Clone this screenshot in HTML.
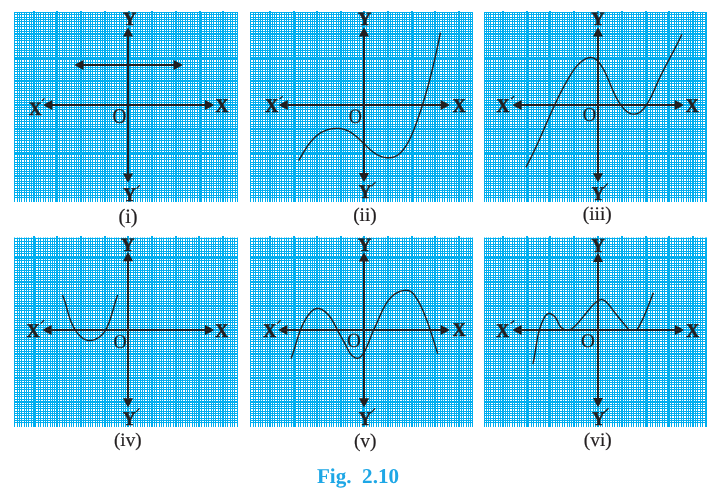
<!DOCTYPE html>
<html><head><meta charset="utf-8"><title>Fig. 2.10</title>
<style>
html,body{margin:0;padding:0;background:#fff;}
body{width:727px;height:494px;overflow:hidden;font-family:"Liberation Serif",serif;}
svg{display:block;will-change:transform;}
</style></head><body>
<svg width="727" height="494" viewBox="0 0 727 494" font-family="'Liberation Serif', serif" text-rendering="geometricPrecision">
<rect width="727" height="494" fill="#fff"/>
<g id="p1">
<path d="M17 12h1v190h-1zM19 12h1v190h-1zM21 12h1v190h-1zM24 12h1v190h-1zM26 12h1v190h-1zM29 12h1v190h-1zM31 12h1v190h-1zM33 11h2v191h-2zM36 12h1v190h-1zM38 12h1v190h-1zM40 12h1v190h-1zM43 12h1v190h-1zM45 12h1v190h-1zM48 12h1v190h-1zM50 12h1v190h-1zM52 12h1v190h-1zM55 12h1v190h-1zM56 11h2v191h-2zM59 12h1v190h-1zM62 12h1v190h-1zM64 12h1v190h-1zM66 12h1v190h-1zM69 12h1v190h-1zM71 12h1v190h-1zM74 12h1v190h-1zM76 12h1v190h-1zM78 12h1v190h-1zM80 11h2v191h-2zM83 12h1v190h-1zM85 12h1v190h-1zM88 12h1v190h-1zM90 12h1v190h-1zM92 12h1v190h-1zM95 12h1v190h-1zM97 12h1v190h-1zM100 12h1v190h-1zM102 12h1v190h-1zM104 11h2v191h-2zM107 12h1v190h-1zM109 12h1v190h-1zM111 12h1v190h-1zM114 12h1v190h-1zM116 12h1v190h-1zM119 12h1v190h-1zM121 12h1v190h-1zM123 12h1v190h-1zM126 12h1v190h-1zM128 11h2v191h-2zM130 12h1v190h-1zM133 12h1v190h-1zM135 12h1v190h-1zM137 12h1v190h-1zM140 12h1v190h-1zM142 12h1v190h-1zM145 12h1v190h-1zM147 12h1v190h-1zM149 12h1v190h-1zM151 11h2v191h-2zM154 12h1v190h-1zM156 12h1v190h-1zM159 12h1v190h-1zM161 12h1v190h-1zM164 12h1v190h-1zM166 12h1v190h-1zM168 12h1v190h-1zM171 12h1v190h-1zM173 12h1v190h-1zM175 11h2v191h-2zM178 12h1v190h-1zM180 12h1v190h-1zM182 12h1v190h-1zM185 12h1v190h-1zM187 12h1v190h-1zM190 12h1v190h-1zM192 12h1v190h-1zM194 12h1v190h-1zM197 12h1v190h-1zM199 11h2v191h-2zM201 12h1v190h-1zM204 12h1v190h-1zM206 12h1v190h-1zM209 12h1v190h-1zM211 12h1v190h-1zM213 12h1v190h-1zM216 12h1v190h-1zM218 12h1v190h-1zM220 12h1v190h-1zM222 11h2v191h-2zM225 12h1v190h-1zM227 12h1v190h-1zM230 12h1v190h-1zM232 12h1v190h-1zM235 12h1v190h-1zM14 12h1v190h-1zM237 12h1v190h-1zM14 14h224v1h-224zM14 17h224v1h-224zM14 19h224v1h-224zM14 21h224v1h-224zM14 24h224v1h-224zM14 26h224v1h-224zM14 29h224v1h-224zM14 31h224v1h-224zM14 33h224v2h-224zM14 36h224v1h-224zM14 38h224v1h-224zM14 40h224v1h-224zM14 43h224v1h-224zM14 45h224v1h-224zM14 48h224v1h-224zM14 50h224v1h-224zM14 52h224v1h-224zM14 55h224v1h-224zM14 57h224v2h-224zM14 59h224v1h-224zM14 62h224v1h-224zM14 64h224v1h-224zM14 67h224v1h-224zM14 69h224v1h-224zM14 71h224v1h-224zM14 74h224v1h-224zM14 76h224v1h-224zM14 78h224v1h-224zM14 80h224v2h-224zM14 83h224v1h-224zM14 86h224v1h-224zM14 88h224v1h-224zM14 90h224v1h-224zM14 93h224v1h-224zM14 95h224v1h-224zM14 97h224v1h-224zM14 100h224v1h-224zM14 102h224v1h-224zM14 104h224v2h-224zM14 107h224v1h-224zM14 109h224v1h-224zM14 112h224v1h-224zM14 114h224v1h-224zM14 116h224v1h-224zM14 119h224v1h-224zM14 121h224v1h-224zM14 124h224v1h-224zM14 126h224v1h-224zM14 128h224v2h-224zM14 131h224v1h-224zM14 133h224v1h-224zM14 135h224v1h-224zM14 138h224v1h-224zM14 140h224v1h-224zM14 143h224v1h-224zM14 145h224v1h-224zM14 147h224v1h-224zM14 150h224v1h-224zM14 152h224v2h-224zM14 154h224v1h-224zM14 157h224v1h-224zM14 159h224v1h-224zM14 162h224v1h-224zM14 164h224v1h-224zM14 166h224v1h-224zM14 169h224v1h-224zM14 171h224v1h-224zM14 173h224v1h-224zM14 175h224v2h-224zM14 178h224v1h-224zM14 181h224v1h-224zM14 183h224v1h-224zM14 185h224v1h-224zM14 188h224v1h-224zM14 190h224v1h-224zM14 192h224v1h-224zM14 195h224v1h-224zM14 12h224v1h-224zM14 197h224v1h-224z" fill="#00aeef" shape-rendering="crispEdges"/>
<text transform="translate(123.00 24.60) scale(0.98 1)" font-size="18.8" font-weight="bold" fill="#231f20" stroke="#231f20" stroke-width="0.65" stroke-linejoin="round">Y</text>
<text transform="translate(123.32 201.30) scale(0.9 1)" font-size="19.5" font-weight="bold" fill="#231f20" stroke="#231f20" stroke-width="0.65" stroke-linejoin="round">Y</text>
<line x1="136.7" y1="188.6" x2="139.8" y2="185.1" stroke="#231f20" stroke-width="1.25"/>
<text transform="translate(28.90 114.60) scale(0.92 1)" font-size="18.8" font-weight="bold" fill="#231f20" stroke="#231f20" stroke-width="0.65" stroke-linejoin="round">X</text>
<line x1="42.0" y1="101.0" x2="44.4" y2="98.4" stroke="#231f20" stroke-width="1.25"/>
<text transform="translate(215.59 111.80) scale(0.92 1)" font-size="19.4" font-weight="bold" fill="#231f20" stroke="#231f20" stroke-width="0.65" stroke-linejoin="round">X</text>
<text transform="translate(112.51 123.49) scale(0.916 1)" font-size="20.99" fill="#231f20" stroke="#231f20" stroke-width="0.2">O</text>
<text x="128.0" y="222.6" font-size="20.4" text-anchor="middle" fill="#231f20" stroke="#231f20" stroke-width="0.2">(i)</text>
<path d="M52.099999999999994 105.0H205.2M128.0 36.3V173.7" stroke="#231f20" stroke-width="2.0" fill="none" shape-rendering="crispEdges"/>
<polygon points="43.0,105.0 52.3,100.0 52.3,110.0" fill="#231f20"/>
<polygon points="214.3,105.0 205.0,100.0 205.0,110.0" fill="#231f20"/>
<polygon points="128.0,27.2 123.0,36.5 133.1,36.5" fill="#231f20"/>
<polygon points="128.0,182.8 123.0,173.5 133.1,173.5" fill="#231f20"/>
<path d="M83.3 65H173.79999999999998" stroke="#231f20" stroke-width="2.0" fill="none" shape-rendering="crispEdges"/>
<polygon points="74.2,65.0 83.5,60.0 83.5,70.0" fill="#231f20"/>
<polygon points="182.9,65.0 173.6,60.0 173.6,70.0" fill="#231f20"/>
</g>
<g id="p2">
<path d="M253 12h1v190h-1zM255 12h1v190h-1zM258 12h1v190h-1zM260 12h1v190h-1zM262 12h1v190h-1zM265 12h1v190h-1zM267 12h1v190h-1zM269 11h2v191h-2zM272 12h1v190h-1zM274 12h1v190h-1zM276 12h1v190h-1zM279 12h1v190h-1zM281 12h1v190h-1zM284 12h1v190h-1zM286 12h1v190h-1zM288 12h1v190h-1zM291 12h1v190h-1zM293 11h2v191h-2zM295 12h1v190h-1zM298 12h1v190h-1zM300 12h1v190h-1zM302 12h1v190h-1zM305 12h1v190h-1zM307 12h1v190h-1zM310 12h1v190h-1zM312 12h1v190h-1zM314 12h1v190h-1zM316 11h2v191h-2zM319 12h1v190h-1zM321 12h1v190h-1zM324 12h1v190h-1zM326 12h1v190h-1zM328 12h1v190h-1zM331 12h1v190h-1zM333 12h1v190h-1zM336 12h1v190h-1zM338 12h1v190h-1zM340 11h2v191h-2zM343 12h1v190h-1zM345 12h1v190h-1zM347 12h1v190h-1zM350 12h1v190h-1zM352 12h1v190h-1zM354 12h1v190h-1zM357 12h1v190h-1zM359 12h1v190h-1zM362 12h1v190h-1zM363 11h2v191h-2zM366 12h1v190h-1zM369 12h1v190h-1zM371 12h1v190h-1zM373 12h1v190h-1zM376 12h1v190h-1zM378 12h1v190h-1zM380 12h1v190h-1zM383 12h1v190h-1zM385 12h1v190h-1zM387 11h2v191h-2zM390 12h1v190h-1zM392 12h1v190h-1zM395 12h1v190h-1zM397 12h1v190h-1zM399 12h1v190h-1zM402 12h1v190h-1zM404 12h1v190h-1zM406 12h1v190h-1zM409 12h1v190h-1zM411 11h2v191h-2zM413 12h1v190h-1zM416 12h1v190h-1zM418 12h1v190h-1zM421 12h1v190h-1zM423 12h1v190h-1zM425 12h1v190h-1zM428 12h1v190h-1zM430 12h1v190h-1zM432 12h1v190h-1zM434 11h2v191h-2zM437 12h1v190h-1zM439 12h1v190h-1zM442 12h1v190h-1zM444 12h1v190h-1zM447 12h1v190h-1zM449 12h1v190h-1zM451 12h1v190h-1zM454 12h1v190h-1zM456 12h1v190h-1zM458 11h2v191h-2zM461 12h1v190h-1zM463 12h1v190h-1zM465 12h1v190h-1zM468 12h1v190h-1zM470 12h1v190h-1zM250 12h1v190h-1zM472 12h1v190h-1zM250 14h223v1h-223zM250 17h223v1h-223zM250 19h223v1h-223zM250 21h223v1h-223zM250 24h223v1h-223zM250 26h223v1h-223zM250 29h223v1h-223zM250 31h223v1h-223zM250 33h223v2h-223zM250 36h223v1h-223zM250 38h223v1h-223zM250 40h223v1h-223zM250 43h223v1h-223zM250 45h223v1h-223zM250 48h223v1h-223zM250 50h223v1h-223zM250 52h223v1h-223zM250 55h223v1h-223zM250 57h223v2h-223zM250 59h223v1h-223zM250 62h223v1h-223zM250 64h223v1h-223zM250 67h223v1h-223zM250 69h223v1h-223zM250 71h223v1h-223zM250 74h223v1h-223zM250 76h223v1h-223zM250 78h223v1h-223zM250 80h223v2h-223zM250 83h223v1h-223zM250 86h223v1h-223zM250 88h223v1h-223zM250 90h223v1h-223zM250 93h223v1h-223zM250 95h223v1h-223zM250 97h223v1h-223zM250 100h223v1h-223zM250 102h223v1h-223zM250 104h223v2h-223zM250 107h223v1h-223zM250 109h223v1h-223zM250 112h223v1h-223zM250 114h223v1h-223zM250 116h223v1h-223zM250 119h223v1h-223zM250 121h223v1h-223zM250 124h223v1h-223zM250 126h223v1h-223zM250 128h223v2h-223zM250 131h223v1h-223zM250 133h223v1h-223zM250 135h223v1h-223zM250 138h223v1h-223zM250 140h223v1h-223zM250 143h223v1h-223zM250 145h223v1h-223zM250 147h223v1h-223zM250 150h223v1h-223zM250 152h223v2h-223zM250 154h223v1h-223zM250 157h223v1h-223zM250 159h223v1h-223zM250 162h223v1h-223zM250 164h223v1h-223zM250 166h223v1h-223zM250 169h223v1h-223zM250 171h223v1h-223zM250 173h223v1h-223zM250 175h223v2h-223zM250 178h223v1h-223zM250 181h223v1h-223zM250 183h223v1h-223zM250 185h223v1h-223zM250 188h223v1h-223zM250 190h223v1h-223zM250 192h223v1h-223zM250 195h223v1h-223zM250 12h223v1h-223zM250 197h223v1h-223z" fill="#00aeef" shape-rendering="crispEdges"/>
<text transform="translate(357.90 25.40) scale(0.98 1)" font-size="18.8" font-weight="bold" fill="#231f20" stroke="#231f20" stroke-width="0.65" stroke-linejoin="round">Y</text>
<text transform="translate(358.72 197.70) scale(0.9 1)" font-size="19.5" font-weight="bold" fill="#231f20" stroke="#231f20" stroke-width="0.65" stroke-linejoin="round">Y</text>
<line x1="371.6" y1="186.2" x2="375.5" y2="182.1" stroke="#231f20" stroke-width="1.25"/>
<text transform="translate(265.29 111.70) scale(0.92 1)" font-size="19.4" font-weight="bold" fill="#231f20" stroke="#231f20" stroke-width="0.65" stroke-linejoin="round">X</text>
<line x1="279.6" y1="99.1" x2="282.6" y2="96.1" stroke="#231f20" stroke-width="1.25"/>
<text transform="translate(452.69 111.70) scale(0.92 1)" font-size="19.4" font-weight="bold" fill="#231f20" stroke="#231f20" stroke-width="0.65" stroke-linejoin="round">X</text>
<text transform="translate(348.75 123.20) scale(0.890 1)" font-size="20.54" fill="#231f20" stroke="#231f20" stroke-width="0.2">O</text>
<text x="364.9" y="221.2" font-size="19.2" text-anchor="middle" fill="#231f20" stroke="#231f20" stroke-width="0.2">(ii)</text>
<path d="M287.6 105.0H440.8M364.0 36.400000000000006V173.2" stroke="#231f20" stroke-width="2.0" fill="none" shape-rendering="crispEdges"/>
<polygon points="278.5,105.0 287.8,100.0 287.8,110.0" fill="#231f20"/>
<polygon points="449.9,105.0 440.6,100.0 440.6,110.0" fill="#231f20"/>
<polygon points="364.0,27.3 358.9,36.6 369.1,36.6" fill="#231f20"/>
<polygon points="364.0,182.3 358.9,173.0 369.1,173.0" fill="#231f20"/>
<path d="M298.64 160.72L299.23 159.71L299.82 158.68L300.42 157.65L301.02 156.61L301.62 155.56L302.23 154.51L302.85 153.46L303.47 152.41L304.10 151.37L304.75 150.32L305.40 149.28L306.06 148.25L306.73 147.23L307.42 146.21L308.12 145.21L308.84 144.22L309.57 143.25L310.32 142.29L311.08 141.35L311.86 140.43L312.66 139.53L313.48 138.66L314.33 137.81L315.19 136.98L316.08 136.19L316.98 135.42L317.92 134.69L318.88 133.99L319.86 133.32L320.87 132.69L321.91 132.10L322.98 131.55L324.07 131.04L325.20 130.57L326.34 130.14L327.51 129.76L328.70 129.42L329.89 129.13L331.11 128.89L332.33 128.69L333.55 128.54L334.78 128.43L336.01 128.38L337.24 128.38L338.46 128.42L339.67 128.52L340.87 128.67L342.06 128.88L343.23 129.14L344.38 129.45L345.50 129.82L346.61 130.25L347.69 130.72L348.75 131.24L349.79 131.81L350.82 132.42L351.83 133.06L352.82 133.75L353.80 134.46L354.76 135.21L355.71 135.98L356.65 136.78L357.59 137.60L358.51 138.44L359.43 139.29L360.34 140.16L361.24 141.03L362.15 141.92L363.05 142.80L363.95 143.69L364.84 144.58L365.74 145.46L366.65 146.33L367.55 147.19L368.46 148.04L369.38 148.87L370.30 149.69L371.23 150.48L372.18 151.24L373.13 151.98L374.09 152.69L375.07 153.36L376.06 154.00L377.07 154.59L378.09 155.14L379.13 155.65L380.20 156.11L381.28 156.52L382.38 156.87L383.50 157.17L384.63 157.41L385.77 157.58L386.91 157.70L388.06 157.75L389.20 157.74L390.33 157.66L391.46 157.50L392.57 157.28L393.67 156.98L394.74 156.61L395.78 156.15L396.80 155.62L397.78 155.01L398.73 154.32L399.65 153.56L400.54 152.74L401.39 151.86L402.22 150.94L403.02 149.98L403.79 148.98L404.53 147.96L405.24 146.92L405.94 145.87L406.60 144.81L407.25 143.74L407.87 142.66L408.47 141.58L409.06 140.49L409.62 139.39L410.16 138.29L410.69 137.18L411.21 136.07L411.71 134.95L412.19 133.82L412.67 132.70L413.13 131.57L413.59 130.44L414.03 129.30L414.47 128.16L414.90 127.02L415.32 125.88L415.74 124.74L416.16 123.60L416.57 122.46L416.98 121.31L417.39 120.17L417.79 119.03L418.19 117.88L418.59 116.74L418.98 115.59L419.37 114.45L419.75 113.30L420.14 112.15L420.52 111.01L420.89 109.86L421.27 108.71L421.64 107.56L422.01 106.41L422.37 105.26L422.73 104.11L423.09 102.96L423.45 101.81L423.80 100.65L424.15 99.50L424.50 98.35L424.84 97.19L425.18 96.04L425.52 94.88L425.86 93.73L426.19 92.57L426.52 91.42L426.85 90.26L427.18 89.10L427.50 87.94L427.82 86.78L428.14 85.62L428.45 84.46L428.77 83.30L429.08 82.14L429.39 80.97L429.69 79.81L430.00 78.65L430.30 77.48L430.60 76.32L430.90 75.15L431.19 73.98L431.49 72.81L431.78 71.65L432.07 70.48L432.35 69.31L432.64 68.14L432.92 66.96L433.20 65.79L433.48 64.62L433.76 63.45L434.04 62.27L434.31 61.10L434.58 59.92L434.85 58.74L435.12 57.57L435.39 56.39L435.65 55.21L435.92 54.03L436.18 52.85L436.44 51.67L436.70 50.48L436.96 49.30L437.21 48.12L437.47 46.93L437.72 45.75L437.97 44.56L438.22 43.37L438.47 42.18L438.72 40.99L438.97 39.80L439.21 38.61L439.46 37.42L439.70 36.23L439.94 35.03L440.18 33.84L440.42 32.64" fill="none" stroke="#231f20" stroke-width="1.4" stroke-linecap="butt" stroke-linejoin="round"/>
</g>
<g id="p3">
<path d="M486 12h1v190h-1zM488 12h1v190h-1zM490 12h1v190h-1zM493 12h1v190h-1zM495 12h1v190h-1zM498 12h1v190h-1zM500 12h1v190h-1zM502 11h2v191h-2zM505 12h1v190h-1zM507 12h1v190h-1zM509 12h1v190h-1zM512 12h1v190h-1zM514 12h1v190h-1zM517 12h1v190h-1zM519 12h1v190h-1zM521 12h1v190h-1zM524 12h1v190h-1zM526 11h2v191h-2zM528 12h1v190h-1zM531 12h1v190h-1zM533 12h1v190h-1zM536 12h1v190h-1zM538 12h1v190h-1zM540 12h1v190h-1zM543 12h1v190h-1zM545 12h1v190h-1zM548 12h1v190h-1zM549 11h2v191h-2zM552 12h1v190h-1zM555 12h1v190h-1zM557 12h1v190h-1zM559 12h1v190h-1zM562 12h1v190h-1zM564 12h1v190h-1zM567 12h1v190h-1zM569 12h1v190h-1zM571 12h1v190h-1zM573 11h2v191h-2zM576 12h1v190h-1zM578 12h1v190h-1zM581 12h1v190h-1zM583 12h1v190h-1zM586 12h1v190h-1zM588 12h1v190h-1zM590 12h1v190h-1zM593 12h1v190h-1zM595 12h1v190h-1zM597 11h2v191h-2zM600 12h1v190h-1zM602 12h1v190h-1zM605 12h1v190h-1zM607 12h1v190h-1zM609 12h1v190h-1zM612 12h1v190h-1zM614 12h1v190h-1zM617 12h1v190h-1zM619 12h1v190h-1zM621 11h2v191h-2zM624 12h1v190h-1zM626 12h1v190h-1zM628 12h1v190h-1zM631 12h1v190h-1zM633 12h1v190h-1zM636 12h1v190h-1zM638 12h1v190h-1zM640 12h1v190h-1zM643 12h1v190h-1zM645 11h2v191h-2zM647 12h1v190h-1zM650 12h1v190h-1zM652 12h1v190h-1zM655 12h1v190h-1zM657 12h1v190h-1zM659 12h1v190h-1zM662 12h1v190h-1zM664 12h1v190h-1zM667 12h1v190h-1zM668 11h2v191h-2zM671 12h1v190h-1zM674 12h1v190h-1zM676 12h1v190h-1zM678 12h1v190h-1zM681 12h1v190h-1zM683 12h1v190h-1zM686 12h1v190h-1zM688 12h1v190h-1zM690 12h1v190h-1zM692 11h2v191h-2zM695 12h1v190h-1zM697 12h1v190h-1zM700 12h1v190h-1zM702 12h1v190h-1zM705 12h1v190h-1zM484 12h1v190h-1zM706 12h1v190h-1zM484 14h223v1h-223zM484 17h223v1h-223zM484 19h223v1h-223zM484 21h223v1h-223zM484 24h223v1h-223zM484 26h223v1h-223zM484 29h223v1h-223zM484 31h223v1h-223zM484 33h223v2h-223zM484 36h223v1h-223zM484 38h223v1h-223zM484 40h223v1h-223zM484 43h223v1h-223zM484 45h223v1h-223zM484 48h223v1h-223zM484 50h223v1h-223zM484 52h223v1h-223zM484 55h223v1h-223zM484 57h223v2h-223zM484 59h223v1h-223zM484 62h223v1h-223zM484 64h223v1h-223zM484 67h223v1h-223zM484 69h223v1h-223zM484 71h223v1h-223zM484 74h223v1h-223zM484 76h223v1h-223zM484 78h223v1h-223zM484 80h223v2h-223zM484 83h223v1h-223zM484 86h223v1h-223zM484 88h223v1h-223zM484 90h223v1h-223zM484 93h223v1h-223zM484 95h223v1h-223zM484 97h223v1h-223zM484 100h223v1h-223zM484 102h223v1h-223zM484 104h223v2h-223zM484 107h223v1h-223zM484 109h223v1h-223zM484 112h223v1h-223zM484 114h223v1h-223zM484 116h223v1h-223zM484 119h223v1h-223zM484 121h223v1h-223zM484 124h223v1h-223zM484 126h223v1h-223zM484 128h223v2h-223zM484 131h223v1h-223zM484 133h223v1h-223zM484 135h223v1h-223zM484 138h223v1h-223zM484 140h223v1h-223zM484 143h223v1h-223zM484 145h223v1h-223zM484 147h223v1h-223zM484 150h223v1h-223zM484 152h223v2h-223zM484 154h223v1h-223zM484 157h223v1h-223zM484 159h223v1h-223zM484 162h223v1h-223zM484 164h223v1h-223zM484 166h223v1h-223zM484 169h223v1h-223zM484 171h223v1h-223zM484 173h223v1h-223zM484 175h223v2h-223zM484 178h223v1h-223zM484 181h223v1h-223zM484 183h223v1h-223zM484 185h223v1h-223zM484 188h223v1h-223zM484 190h223v1h-223zM484 192h223v1h-223zM484 195h223v1h-223zM484 12h223v1h-223zM484 197h223v1h-223z" fill="#00aeef" shape-rendering="crispEdges"/>
<text transform="translate(591.30 24.70) scale(0.98 1)" font-size="18.8" font-weight="bold" fill="#231f20" stroke="#231f20" stroke-width="0.65" stroke-linejoin="round">Y</text>
<text transform="translate(591.72 199.50) scale(0.9 1)" font-size="19.5" font-weight="bold" fill="#231f20" stroke="#231f20" stroke-width="0.65" stroke-linejoin="round">Y</text>
<line x1="604.0" y1="187.4" x2="607.8" y2="183.3" stroke="#231f20" stroke-width="1.25"/>
<text transform="translate(496.59 111.70) scale(0.92 1)" font-size="19.4" font-weight="bold" fill="#231f20" stroke="#231f20" stroke-width="0.65" stroke-linejoin="round">X</text>
<line x1="511.0" y1="99.0" x2="514.3" y2="96.1" stroke="#231f20" stroke-width="1.25"/>
<text transform="translate(685.69 111.70) scale(0.92 1)" font-size="19.4" font-weight="bold" fill="#231f20" stroke="#231f20" stroke-width="0.65" stroke-linejoin="round">X</text>
<text transform="translate(582.74 121.21) scale(0.939 1)" font-size="19.79" fill="#231f20" stroke="#231f20" stroke-width="0.2">O</text>
<text x="597.3" y="220.2" font-size="19.3" text-anchor="middle" fill="#231f20" stroke="#231f20" stroke-width="0.2">(iii)</text>
<path d="M521.4 105.0H674.9000000000001M598.0 36.400000000000006V173.5" stroke="#231f20" stroke-width="2.0" fill="none" shape-rendering="crispEdges"/>
<polygon points="512.3,105.0 521.6,100.0 521.6,110.0" fill="#231f20"/>
<polygon points="684.0,105.0 674.7,100.0 674.7,110.0" fill="#231f20"/>
<polygon points="598.0,27.3 593.0,36.6 603.0,36.6" fill="#231f20"/>
<polygon points="598.0,182.6 593.0,173.3 603.0,173.3" fill="#231f20"/>
<path d="M525.89 167.26L526.47 166.20L527.04 165.13L527.61 164.06L528.17 162.99L528.73 161.92L529.28 160.84L529.83 159.77L530.38 158.69L530.92 157.61L531.45 156.53L531.98 155.44L532.51 154.36L533.04 153.27L533.56 152.18L534.08 151.09L534.60 150.00L535.11 148.90L535.62 147.81L536.13 146.71L536.63 145.62L537.13 144.52L537.63 143.42L538.13 142.32L538.62 141.22L539.12 140.12L539.61 139.02L540.10 137.91L540.59 136.81L541.08 135.71L541.56 134.60L542.05 133.50L542.53 132.39L543.02 131.29L543.50 130.18L543.98 129.08L544.46 127.97L544.94 126.86L545.43 125.76L545.91 124.65L546.39 123.55L546.87 122.44L547.35 121.34L547.84 120.23L548.32 119.13L548.80 118.02L549.29 116.92L549.78 115.82L550.27 114.71L550.75 113.61L551.25 112.51L551.74 111.41L552.23 110.31L552.73 109.22L553.23 108.12L553.73 107.02L554.23 105.93L554.74 104.84L555.25 103.74L555.76 102.65L556.27 101.56L556.79 100.48L557.31 99.39L557.83 98.31L558.36 97.22L558.89 96.14L559.42 95.06L559.96 93.99L560.50 92.91L561.05 91.84L561.60 90.77L562.16 89.70L562.72 88.63L563.28 87.57L563.85 86.50L564.42 85.45L565.00 84.39L565.59 83.33L566.18 82.28L566.77 81.23L567.37 80.18L567.98 79.14L568.59 78.10L569.21 77.06L569.84 76.03L570.47 74.99L571.11 73.96L571.75 72.94L572.41 71.92L573.08 70.91L573.77 69.91L574.48 68.92L575.21 67.95L575.97 67.00L576.76 66.06L577.59 65.14L578.44 64.25L579.34 63.38L580.28 62.54L581.26 61.73L582.29 60.95L583.35 60.22L584.44 59.55L585.55 58.96L586.67 58.45L587.78 58.04L588.90 57.74L589.99 57.56L591.06 57.52L592.10 57.63L593.10 57.88L594.07 58.27L595.01 58.77L595.91 59.39L596.78 60.11L597.61 60.91L598.42 61.79L599.20 62.72L599.95 63.71L600.67 64.74L601.36 65.79L602.03 66.85L602.67 67.92L603.29 68.99L603.89 70.07L604.46 71.16L605.02 72.25L605.56 73.34L606.09 74.44L606.60 75.54L607.10 76.64L607.59 77.75L608.06 78.85L608.54 79.96L609.00 81.07L609.46 82.18L609.92 83.29L610.37 84.40L610.82 85.51L611.28 86.62L611.74 87.73L612.20 88.83L612.67 89.94L613.15 91.04L613.64 92.13L614.14 93.23L614.65 94.32L615.17 95.40L615.72 96.49L616.27 97.56L616.85 98.63L617.45 99.70L618.07 100.75L618.71 101.81L619.38 102.85L620.07 103.89L620.79 104.92L621.54 105.94L622.33 106.94L623.14 107.93L623.98 108.88L624.86 109.78L625.76 110.63L626.69 111.41L627.66 112.11L628.65 112.72L629.67 113.23L630.73 113.63L631.81 113.91L632.90 114.07L634.00 114.11L635.11 114.04L636.19 113.84L637.26 113.53L638.30 113.11L639.30 112.57L640.26 111.93L641.19 111.19L642.08 110.38L642.93 109.49L643.75 108.55L644.54 107.56L645.30 106.54L646.03 105.50L646.73 104.45L647.41 103.39L648.06 102.33L648.69 101.26L649.30 100.19L649.89 99.11L650.46 98.03L651.02 96.95L651.56 95.87L652.08 94.78L652.60 93.69L653.10 92.60L653.60 91.51L654.09 90.41L654.57 89.32L655.05 88.22L655.53 87.12L656.00 86.03L656.48 84.93L656.96 83.84L657.44 82.75L657.93 81.66L658.42 80.57L658.92 79.48L659.43 78.39L659.95 77.31L660.47 76.23L660.99 75.14L661.52 74.06L662.06 72.99L662.60 71.91L663.14 70.83L663.69 69.76L664.24 68.68L664.79 67.61L665.35 66.54L665.91 65.46L666.47 64.39L667.04 63.32L667.60 62.25L668.17 61.18L668.74 60.11L669.31 59.04L669.88 57.97L670.45 56.90L671.02 55.83L671.59 54.76L672.15 53.69L672.72 52.62L673.29 51.55L673.85 50.48L674.41 49.41L674.97 48.34L675.53 47.26L676.08 46.19L676.63 45.11L677.17 44.04L677.72 42.96L678.25 41.88L678.79 40.80L679.32 39.72L679.84 38.64L680.36 37.55L680.87 36.47L681.37 35.38L681.87 34.29" fill="none" stroke="#231f20" stroke-width="1.4" stroke-linecap="butt" stroke-linejoin="round"/>
</g>
<g id="p4">
<path d="M17 238h1v189h-1zM19 238h1v189h-1zM21 238h1v189h-1zM24 238h1v189h-1zM26 238h1v189h-1zM28 238h1v189h-1zM31 238h1v189h-1zM33 236h2v191h-2zM35 238h1v189h-1zM38 238h1v189h-1zM40 238h1v189h-1zM43 238h1v189h-1zM45 238h1v189h-1zM47 238h1v189h-1zM50 238h1v189h-1zM52 238h1v189h-1zM54 238h1v189h-1zM56 236h2v191h-2zM59 238h1v189h-1zM62 238h1v189h-1zM64 238h1v189h-1zM66 238h1v189h-1zM69 238h1v189h-1zM71 238h1v189h-1zM73 238h1v189h-1zM76 238h1v189h-1zM78 238h1v189h-1zM80 236h2v191h-2zM83 238h1v189h-1zM85 238h1v189h-1zM88 238h1v189h-1zM90 238h1v189h-1zM92 238h1v189h-1zM95 238h1v189h-1zM97 238h1v189h-1zM99 238h1v189h-1zM102 238h1v189h-1zM104 236h2v191h-2zM107 238h1v189h-1zM109 238h1v189h-1zM111 238h1v189h-1zM114 238h1v189h-1zM116 238h1v189h-1zM118 238h1v189h-1zM121 238h1v189h-1zM123 238h1v189h-1zM125 238h1v189h-1zM127 236h2v191h-2zM130 238h1v189h-1zM133 238h1v189h-1zM135 238h1v189h-1zM137 238h1v189h-1zM140 238h1v189h-1zM142 238h1v189h-1zM144 238h1v189h-1zM147 238h1v189h-1zM149 238h1v189h-1zM151 236h2v191h-2zM154 238h1v189h-1zM156 238h1v189h-1zM159 238h1v189h-1zM161 238h1v189h-1zM163 238h1v189h-1zM166 238h1v189h-1zM168 238h1v189h-1zM170 238h1v189h-1zM173 238h1v189h-1zM175 236h2v191h-2zM178 238h1v189h-1zM180 238h1v189h-1zM182 238h1v189h-1zM185 238h1v189h-1zM187 238h1v189h-1zM189 238h1v189h-1zM192 238h1v189h-1zM194 238h1v189h-1zM196 238h1v189h-1zM198 236h2v191h-2zM201 238h1v189h-1zM204 238h1v189h-1zM206 238h1v189h-1zM208 238h1v189h-1zM211 238h1v189h-1zM213 238h1v189h-1zM215 238h1v189h-1zM218 238h1v189h-1zM220 238h1v189h-1zM222 236h2v191h-2zM225 238h1v189h-1zM227 238h1v189h-1zM230 238h1v189h-1zM232 238h1v189h-1zM234 238h1v189h-1zM14 238h1v189h-1zM237 238h1v189h-1zM14 241h224v1h-224zM14 244h224v1h-224zM14 246h224v1h-224zM14 248h224v1h-224zM14 251h224v1h-224zM14 253h224v1h-224zM14 256h224v1h-224zM14 257h224v2h-224zM14 260h224v1h-224zM14 263h224v1h-224zM14 265h224v1h-224zM14 267h224v1h-224zM14 270h224v1h-224zM14 272h224v1h-224zM14 275h224v1h-224zM14 277h224v1h-224zM14 279h224v1h-224zM14 281h224v2h-224zM14 284h224v1h-224zM14 287h224v1h-224zM14 289h224v1h-224zM14 291h224v1h-224zM14 294h224v1h-224zM14 296h224v1h-224zM14 298h224v1h-224zM14 301h224v1h-224zM14 303h224v1h-224zM14 305h224v2h-224zM14 308h224v1h-224zM14 310h224v1h-224zM14 313h224v1h-224zM14 315h224v1h-224zM14 318h224v1h-224zM14 320h224v1h-224zM14 322h224v1h-224zM14 325h224v1h-224zM14 327h224v1h-224zM14 329h224v2h-224zM14 332h224v1h-224zM14 334h224v1h-224zM14 337h224v1h-224zM14 339h224v1h-224zM14 341h224v1h-224zM14 344h224v1h-224zM14 346h224v1h-224zM14 349h224v1h-224zM14 351h224v1h-224zM14 353h224v2h-224zM14 356h224v1h-224zM14 358h224v1h-224zM14 361h224v1h-224zM14 363h224v1h-224zM14 365h224v1h-224zM14 368h224v1h-224zM14 370h224v1h-224zM14 372h224v1h-224zM14 375h224v1h-224zM14 377h224v2h-224zM14 380h224v1h-224zM14 382h224v1h-224zM14 384h224v1h-224zM14 387h224v1h-224zM14 389h224v1h-224zM14 392h224v1h-224zM14 394h224v1h-224zM14 396h224v1h-224zM14 399h224v1h-224zM14 401h224v2h-224zM14 404h224v1h-224zM14 406h224v1h-224zM14 408h224v1h-224zM14 411h224v1h-224zM14 413h224v1h-224zM14 415h224v1h-224zM14 418h224v1h-224zM14 420h224v1h-224zM14 238h224v1h-224zM14 422h224v1h-224z" fill="#00aeef" shape-rendering="crispEdges"/><path d="M17 237h1v1h-1zM19 237h1v1h-1zM21 237h1v1h-1zM24 237h1v1h-1zM26 237h1v1h-1zM28 237h1v1h-1zM31 237h1v1h-1zM35 237h1v1h-1zM38 237h1v1h-1zM40 237h1v1h-1zM43 237h1v1h-1zM45 237h1v1h-1zM47 237h1v1h-1zM50 237h1v1h-1zM52 237h1v1h-1zM54 237h1v1h-1zM59 237h1v1h-1zM62 237h1v1h-1zM64 237h1v1h-1zM66 237h1v1h-1zM69 237h1v1h-1zM71 237h1v1h-1zM73 237h1v1h-1zM76 237h1v1h-1zM78 237h1v1h-1zM83 237h1v1h-1zM85 237h1v1h-1zM88 237h1v1h-1zM90 237h1v1h-1zM92 237h1v1h-1zM95 237h1v1h-1zM97 237h1v1h-1zM99 237h1v1h-1zM102 237h1v1h-1zM107 237h1v1h-1zM109 237h1v1h-1zM111 237h1v1h-1zM114 237h1v1h-1zM116 237h1v1h-1zM118 237h1v1h-1zM121 237h1v1h-1zM123 237h1v1h-1zM125 237h1v1h-1zM130 237h1v1h-1zM133 237h1v1h-1zM135 237h1v1h-1zM137 237h1v1h-1zM140 237h1v1h-1zM142 237h1v1h-1zM144 237h1v1h-1zM147 237h1v1h-1zM149 237h1v1h-1zM154 237h1v1h-1zM156 237h1v1h-1zM159 237h1v1h-1zM161 237h1v1h-1zM163 237h1v1h-1zM166 237h1v1h-1zM168 237h1v1h-1zM170 237h1v1h-1zM173 237h1v1h-1zM178 237h1v1h-1zM180 237h1v1h-1zM182 237h1v1h-1zM185 237h1v1h-1zM187 237h1v1h-1zM189 237h1v1h-1zM192 237h1v1h-1zM194 237h1v1h-1zM196 237h1v1h-1zM201 237h1v1h-1zM204 237h1v1h-1zM206 237h1v1h-1zM208 237h1v1h-1zM211 237h1v1h-1zM213 237h1v1h-1zM215 237h1v1h-1zM218 237h1v1h-1zM220 237h1v1h-1zM225 237h1v1h-1zM227 237h1v1h-1zM230 237h1v1h-1zM232 237h1v1h-1zM234 237h1v1h-1zM14 237h1v1h-1zM237 237h1v1h-1z" fill="#00aeef" fill-opacity="0.5" shape-rendering="crispEdges"/>
<text transform="translate(120.90 250.60) scale(0.98 1)" font-size="18.8" font-weight="bold" fill="#231f20" stroke="#231f20" stroke-width="0.65" stroke-linejoin="round">Y</text>
<text transform="translate(123.02 424.60) scale(0.9 1)" font-size="19.5" font-weight="bold" fill="#231f20" stroke="#231f20" stroke-width="0.65" stroke-linejoin="round">Y</text>
<line x1="136.1" y1="411.9" x2="139.5" y2="408.4" stroke="#231f20" stroke-width="1.25"/>
<text transform="translate(26.69 336.50) scale(0.92 1)" font-size="19.4" font-weight="bold" fill="#231f20" stroke="#231f20" stroke-width="0.65" stroke-linejoin="round">X</text>
<line x1="40.6" y1="323.6" x2="44.1" y2="320.3" stroke="#231f20" stroke-width="1.25"/>
<text transform="translate(215.19 336.70) scale(0.92 1)" font-size="19.4" font-weight="bold" fill="#231f20" stroke="#231f20" stroke-width="0.65" stroke-linejoin="round">X</text>
<text transform="translate(113.45 347.51) scale(0.930 1)" font-size="19.65" fill="#231f20" stroke="#231f20" stroke-width="0.2">O</text>
<text x="127.75" y="446.0" font-size="19.0" text-anchor="middle" fill="#231f20" stroke="#231f20" stroke-width="0.2">(iv)</text>
<path d="M51.400000000000006 330.0H205.2M128.0 261.0V398.4" stroke="#231f20" stroke-width="2.0" fill="none" shape-rendering="crispEdges"/>
<polygon points="42.3,330.0 51.6,324.9 51.6,335.1" fill="#231f20"/>
<polygon points="214.3,330.0 205.0,324.9 205.0,335.1" fill="#231f20"/>
<polygon points="128.0,251.9 123.0,261.2 133.1,261.2" fill="#231f20"/>
<polygon points="128.0,407.5 123.0,398.2 133.1,398.2" fill="#231f20"/>
<path d="M62.44 295.02L62.95 296.22L63.43 297.42L63.88 298.60L64.31 299.78L64.70 300.95L65.08 302.11L65.44 303.26L65.79 304.41L66.12 305.55L66.44 306.69L66.75 307.83L67.06 308.96L67.37 310.09L67.67 311.22L67.99 312.34L68.31 313.47L68.63 314.60L68.98 315.72L69.33 316.86L69.71 317.99L70.10 319.12L70.52 320.27L70.97 321.41L71.44 322.56L71.95 323.72L72.49 324.88L73.06 326.04L73.67 327.19L74.31 328.33L74.97 329.45L75.67 330.55L76.40 331.62L77.15 332.65L77.94 333.65L78.75 334.60L79.59 335.50L80.46 336.35L81.35 337.13L82.27 337.85L83.22 338.49L84.18 339.06L85.18 339.54L86.19 339.94L87.23 340.24L88.29 340.45L89.38 340.55L90.48 340.54L91.60 340.42L92.74 340.20L93.87 339.88L95.00 339.47L96.12 338.97L97.22 338.40L98.29 337.75L99.33 337.03L100.33 336.25L101.28 335.41L102.18 334.52L103.01 333.59L103.79 332.62L104.52 331.61L105.20 330.57L105.83 329.51L106.42 328.42L106.98 327.31L107.50 326.18L107.99 325.05L108.46 323.91L108.91 322.77L109.34 321.63L109.76 320.48L110.16 319.34L110.54 318.19L110.91 317.04L111.27 315.89L111.63 314.74L111.97 313.59L112.31 312.44L112.64 311.29L112.97 310.13L113.30 308.98L113.63 307.82L113.96 306.66L114.29 305.50L114.63 304.34L114.97 303.18L115.32 302.02L115.68 300.86L116.04 299.70L116.43 298.53L116.82 297.37L117.23 296.20L117.65 295.04" fill="none" stroke="#231f20" stroke-width="1.4" stroke-linecap="butt" stroke-linejoin="round"/>
</g>
<g id="p5">
<path d="M253 238h1v189h-1zM255 238h1v189h-1zM258 238h1v189h-1zM260 238h1v189h-1zM262 238h1v189h-1zM265 238h1v189h-1zM267 238h1v189h-1zM269 236h2v191h-2zM272 238h1v189h-1zM274 238h1v189h-1zM277 238h1v189h-1zM279 238h1v189h-1zM281 238h1v189h-1zM284 238h1v189h-1zM286 238h1v189h-1zM288 238h1v189h-1zM291 238h1v189h-1zM293 236h2v191h-2zM295 238h1v189h-1zM298 238h1v189h-1zM300 238h1v189h-1zM303 238h1v189h-1zM305 238h1v189h-1zM307 238h1v189h-1zM310 238h1v189h-1zM312 238h1v189h-1zM314 238h1v189h-1zM316 236h2v191h-2zM319 238h1v189h-1zM321 238h1v189h-1zM324 238h1v189h-1zM326 238h1v189h-1zM329 238h1v189h-1zM331 238h1v189h-1zM333 238h1v189h-1zM336 238h1v189h-1zM338 238h1v189h-1zM340 236h2v191h-2zM343 238h1v189h-1zM345 238h1v189h-1zM347 238h1v189h-1zM350 238h1v189h-1zM352 238h1v189h-1zM355 238h1v189h-1zM357 238h1v189h-1zM359 238h1v189h-1zM362 238h1v189h-1zM363 236h2v191h-2zM366 238h1v189h-1zM369 238h1v189h-1zM371 238h1v189h-1zM373 238h1v189h-1zM376 238h1v189h-1zM378 238h1v189h-1zM381 238h1v189h-1zM383 238h1v189h-1zM385 238h1v189h-1zM387 236h2v191h-2zM390 238h1v189h-1zM392 238h1v189h-1zM395 238h1v189h-1zM397 238h1v189h-1zM399 238h1v189h-1zM402 238h1v189h-1zM404 238h1v189h-1zM406 238h1v189h-1zM409 238h1v189h-1zM411 236h2v191h-2zM414 238h1v189h-1zM416 238h1v189h-1zM418 238h1v189h-1zM421 238h1v189h-1zM423 238h1v189h-1zM425 238h1v189h-1zM428 238h1v189h-1zM430 238h1v189h-1zM432 238h1v189h-1zM434 236h2v191h-2zM437 238h1v189h-1zM440 238h1v189h-1zM442 238h1v189h-1zM444 238h1v189h-1zM447 238h1v189h-1zM449 238h1v189h-1zM451 238h1v189h-1zM454 238h1v189h-1zM456 238h1v189h-1zM458 236h2v191h-2zM461 238h1v189h-1zM463 238h1v189h-1zM466 238h1v189h-1zM468 238h1v189h-1zM470 238h1v189h-1zM250 238h1v189h-1zM472 238h1v189h-1zM250 241h223v1h-223zM250 244h223v1h-223zM250 246h223v1h-223zM250 248h223v1h-223zM250 251h223v1h-223zM250 253h223v1h-223zM250 256h223v1h-223zM250 257h223v2h-223zM250 260h223v1h-223zM250 263h223v1h-223zM250 265h223v1h-223zM250 267h223v1h-223zM250 270h223v1h-223zM250 272h223v1h-223zM250 275h223v1h-223zM250 277h223v1h-223zM250 279h223v1h-223zM250 281h223v2h-223zM250 284h223v1h-223zM250 287h223v1h-223zM250 289h223v1h-223zM250 291h223v1h-223zM250 294h223v1h-223zM250 296h223v1h-223zM250 298h223v1h-223zM250 301h223v1h-223zM250 303h223v1h-223zM250 305h223v2h-223zM250 308h223v1h-223zM250 310h223v1h-223zM250 313h223v1h-223zM250 315h223v1h-223zM250 318h223v1h-223zM250 320h223v1h-223zM250 322h223v1h-223zM250 325h223v1h-223zM250 327h223v1h-223zM250 329h223v2h-223zM250 332h223v1h-223zM250 334h223v1h-223zM250 337h223v1h-223zM250 339h223v1h-223zM250 341h223v1h-223zM250 344h223v1h-223zM250 346h223v1h-223zM250 349h223v1h-223zM250 351h223v1h-223zM250 353h223v2h-223zM250 356h223v1h-223zM250 358h223v1h-223zM250 361h223v1h-223zM250 363h223v1h-223zM250 365h223v1h-223zM250 368h223v1h-223zM250 370h223v1h-223zM250 372h223v1h-223zM250 375h223v1h-223zM250 377h223v2h-223zM250 380h223v1h-223zM250 382h223v1h-223zM250 384h223v1h-223zM250 387h223v1h-223zM250 389h223v1h-223zM250 392h223v1h-223zM250 394h223v1h-223zM250 396h223v1h-223zM250 399h223v1h-223zM250 401h223v2h-223zM250 404h223v1h-223zM250 406h223v1h-223zM250 408h223v1h-223zM250 411h223v1h-223zM250 413h223v1h-223zM250 415h223v1h-223zM250 418h223v1h-223zM250 420h223v1h-223zM250 238h223v1h-223zM250 422h223v1h-223z" fill="#00aeef" shape-rendering="crispEdges"/><path d="M253 237h1v1h-1zM255 237h1v1h-1zM258 237h1v1h-1zM260 237h1v1h-1zM262 237h1v1h-1zM265 237h1v1h-1zM267 237h1v1h-1zM272 237h1v1h-1zM274 237h1v1h-1zM277 237h1v1h-1zM279 237h1v1h-1zM281 237h1v1h-1zM284 237h1v1h-1zM286 237h1v1h-1zM288 237h1v1h-1zM291 237h1v1h-1zM295 237h1v1h-1zM298 237h1v1h-1zM300 237h1v1h-1zM303 237h1v1h-1zM305 237h1v1h-1zM307 237h1v1h-1zM310 237h1v1h-1zM312 237h1v1h-1zM314 237h1v1h-1zM319 237h1v1h-1zM321 237h1v1h-1zM324 237h1v1h-1zM326 237h1v1h-1zM329 237h1v1h-1zM331 237h1v1h-1zM333 237h1v1h-1zM336 237h1v1h-1zM338 237h1v1h-1zM343 237h1v1h-1zM345 237h1v1h-1zM347 237h1v1h-1zM350 237h1v1h-1zM352 237h1v1h-1zM355 237h1v1h-1zM357 237h1v1h-1zM359 237h1v1h-1zM362 237h1v1h-1zM366 237h1v1h-1zM369 237h1v1h-1zM371 237h1v1h-1zM373 237h1v1h-1zM376 237h1v1h-1zM378 237h1v1h-1zM381 237h1v1h-1zM383 237h1v1h-1zM385 237h1v1h-1zM390 237h1v1h-1zM392 237h1v1h-1zM395 237h1v1h-1zM397 237h1v1h-1zM399 237h1v1h-1zM402 237h1v1h-1zM404 237h1v1h-1zM406 237h1v1h-1zM409 237h1v1h-1zM414 237h1v1h-1zM416 237h1v1h-1zM418 237h1v1h-1zM421 237h1v1h-1zM423 237h1v1h-1zM425 237h1v1h-1zM428 237h1v1h-1zM430 237h1v1h-1zM432 237h1v1h-1zM437 237h1v1h-1zM440 237h1v1h-1zM442 237h1v1h-1zM444 237h1v1h-1zM447 237h1v1h-1zM449 237h1v1h-1zM451 237h1v1h-1zM454 237h1v1h-1zM456 237h1v1h-1zM461 237h1v1h-1zM463 237h1v1h-1zM466 237h1v1h-1zM468 237h1v1h-1zM470 237h1v1h-1zM250 237h1v1h-1zM472 237h1v1h-1z" fill="#00aeef" fill-opacity="0.5" shape-rendering="crispEdges"/>
<text transform="translate(357.90 250.50) scale(0.98 1)" font-size="18.8" font-weight="bold" fill="#231f20" stroke="#231f20" stroke-width="0.65" stroke-linejoin="round">Y</text>
<text transform="translate(358.72 424.50) scale(0.9 1)" font-size="19.5" font-weight="bold" fill="#231f20" stroke="#231f20" stroke-width="0.65" stroke-linejoin="round">Y</text>
<line x1="371.5" y1="412.3" x2="375.0" y2="408.3" stroke="#231f20" stroke-width="1.25"/>
<text transform="translate(263.29 336.50) scale(0.92 1)" font-size="19.4" font-weight="bold" fill="#231f20" stroke="#231f20" stroke-width="0.65" stroke-linejoin="round">X</text>
<line x1="277.3" y1="323.6" x2="280.7" y2="320.3" stroke="#231f20" stroke-width="1.25"/>
<text transform="translate(452.69 336.40) scale(0.92 1)" font-size="19.4" font-weight="bold" fill="#231f20" stroke="#231f20" stroke-width="0.65" stroke-linejoin="round">X</text>
<text transform="translate(347.01 347.30) scale(0.956 1)" font-size="20.09" fill="#231f20" stroke="#231f20" stroke-width="0.2">O</text>
<text x="365.2" y="447.0" font-size="19.4" text-anchor="middle" fill="#231f20" stroke="#231f20" stroke-width="0.2">(v)</text>
<path d="M287.2 330.0H440.8M364.0 261.4V398.5" stroke="#231f20" stroke-width="2.0" fill="none" shape-rendering="crispEdges"/>
<polygon points="278.1,330.0 287.4,324.9 287.4,335.1" fill="#231f20"/>
<polygon points="449.9,330.0 440.6,324.9 440.6,335.1" fill="#231f20"/>
<polygon points="364.0,252.3 358.9,261.6 369.1,261.6" fill="#231f20"/>
<polygon points="364.0,407.6 358.9,398.3 369.1,398.3" fill="#231f20"/>
<path d="M291.02 358.56L291.47 357.39L291.90 356.23L292.32 355.06L292.73 353.90L293.12 352.74L293.50 351.58L293.87 350.42L294.24 349.26L294.60 348.11L294.95 346.95L295.29 345.80L295.64 344.65L295.98 343.50L296.33 342.36L296.67 341.22L297.01 340.08L297.36 338.94L297.72 337.80L298.08 336.67L298.45 335.54L298.83 334.41L299.21 333.28L299.61 332.16L300.02 331.04L300.45 329.93L300.89 328.81L301.35 327.70L301.83 326.60L302.32 325.49L302.84 324.39L303.37 323.30L303.94 322.21L304.52 321.12L305.13 320.03L305.77 318.95L306.44 317.87L307.14 316.80L307.86 315.74L308.62 314.70L309.41 313.69L310.23 312.73L311.07 311.84L311.94 311.02L312.85 310.28L313.77 309.66L314.73 309.14L315.71 308.76L316.72 308.52L317.76 308.44L318.81 308.52L319.89 308.77L320.98 309.17L322.07 309.69L323.14 310.33L324.20 311.06L325.23 311.86L326.22 312.73L327.17 313.63L328.05 314.56L328.89 315.51L329.68 316.48L330.43 317.47L331.13 318.48L331.80 319.50L332.44 320.53L333.05 321.57L333.64 322.62L334.20 323.68L334.76 324.74L335.30 325.80L335.83 326.86L336.36 327.92L336.89 328.98L337.42 330.03L337.97 331.07L338.52 332.11L339.08 333.14L339.65 334.16L340.22 335.19L340.80 336.22L341.38 337.25L341.97 338.28L342.55 339.33L343.14 340.38L343.73 341.44L344.32 342.51L344.90 343.60L345.49 344.71L346.07 345.83L346.65 346.97L347.23 348.12L347.82 349.27L348.43 350.40L349.07 351.51L349.74 352.57L350.45 353.59L351.21 354.55L352.03 355.43L352.91 356.23L353.86 356.94L354.88 357.54L355.95 357.98L357.02 358.21L358.05 358.18L359.01 357.88L359.91 357.36L360.76 356.65L361.55 355.81L362.30 354.87L363.01 353.88L363.68 352.87L364.32 351.82L364.92 350.75L365.50 349.66L366.05 348.55L366.57 347.43L367.08 346.29L367.57 345.14L368.04 343.99L368.50 342.83L368.94 341.67L369.38 340.51L369.82 339.35L370.25 338.20L370.69 337.06L371.13 335.94L371.57 334.83L372.02 333.73L372.48 332.65L372.95 331.58L373.42 330.52L373.89 329.47L374.38 328.42L374.86 327.37L375.34 326.31L375.83 325.26L376.32 324.19L376.81 323.11L377.29 322.02L377.78 320.91L378.26 319.79L378.75 318.67L379.24 317.53L379.74 316.39L380.24 315.24L380.75 314.10L381.26 312.95L381.79 311.81L382.32 310.67L382.87 309.54L383.43 308.42L384.01 307.32L384.60 306.23L385.22 305.15L385.85 304.09L386.50 303.06L387.17 302.05L387.86 301.06L388.58 300.10L389.32 299.17L390.10 298.27L390.89 297.41L391.72 296.59L392.58 295.80L393.47 295.05L394.40 294.35L395.36 293.70L396.36 293.09L397.39 292.53L398.46 292.02L399.57 291.57L400.73 291.18L401.92 290.84L403.14 290.58L404.38 290.40L405.61 290.32L406.83 290.35L408.02 290.51L409.16 290.80L410.24 291.25L411.24 291.85L412.18 292.60L413.05 293.47L413.87 294.42L414.64 295.44L415.37 296.49L416.08 297.54L416.75 298.60L417.41 299.66L418.04 300.72L418.65 301.79L419.23 302.86L419.80 303.93L420.35 305.00L420.89 306.08L421.40 307.16L421.91 308.24L422.40 309.33L422.88 310.42L423.35 311.52L423.81 312.62L424.26 313.73L424.71 314.84L425.15 315.95L425.59 317.07L426.02 318.19L426.45 319.31L426.87 320.44L427.28 321.58L427.69 322.71L428.10 323.85L428.50 324.99L428.90 326.13L429.29 327.28L429.68 328.43L430.07 329.57L430.45 330.73L430.83 331.88L431.21 333.03L431.58 334.19L431.95 335.34L432.32 336.50L432.69 337.66L433.06 338.81L433.42 339.97L433.78 341.13L434.14 342.28L434.50 343.44L434.86 344.59L435.22 345.75L435.57 346.90L435.93 348.05L436.29 349.20L436.64 350.35L437.00 351.49L437.35 352.64L437.71 353.78" fill="none" stroke="#231f20" stroke-width="1.4" stroke-linecap="butt" stroke-linejoin="round"/>
</g>
<g id="p6">
<path d="M486 238h1v189h-1zM488 238h1v189h-1zM490 238h1v189h-1zM493 238h1v189h-1zM495 238h1v189h-1zM498 238h1v189h-1zM500 238h1v189h-1zM502 236h2v191h-2zM505 238h1v189h-1zM507 238h1v189h-1zM509 238h1v189h-1zM512 238h1v189h-1zM514 238h1v189h-1zM517 238h1v189h-1zM519 238h1v189h-1zM521 238h1v189h-1zM524 238h1v189h-1zM526 236h2v191h-2zM528 238h1v189h-1zM531 238h1v189h-1zM533 238h1v189h-1zM536 238h1v189h-1zM538 238h1v189h-1zM540 238h1v189h-1zM543 238h1v189h-1zM545 238h1v189h-1zM548 238h1v189h-1zM549 236h2v191h-2zM552 238h1v189h-1zM555 238h1v189h-1zM557 238h1v189h-1zM559 238h1v189h-1zM562 238h1v189h-1zM564 238h1v189h-1zM567 238h1v189h-1zM569 238h1v189h-1zM571 238h1v189h-1zM573 236h2v191h-2zM576 238h1v189h-1zM578 238h1v189h-1zM581 238h1v189h-1zM583 238h1v189h-1zM586 238h1v189h-1zM588 238h1v189h-1zM590 238h1v189h-1zM593 238h1v189h-1zM595 238h1v189h-1zM597 236h2v191h-2zM600 238h1v189h-1zM602 238h1v189h-1zM605 238h1v189h-1zM607 238h1v189h-1zM609 238h1v189h-1zM612 238h1v189h-1zM614 238h1v189h-1zM617 238h1v189h-1zM619 238h1v189h-1zM621 236h2v191h-2zM624 238h1v189h-1zM626 238h1v189h-1zM628 238h1v189h-1zM631 238h1v189h-1zM633 238h1v189h-1zM636 238h1v189h-1zM638 238h1v189h-1zM640 238h1v189h-1zM643 238h1v189h-1zM645 236h2v191h-2zM647 238h1v189h-1zM650 238h1v189h-1zM652 238h1v189h-1zM655 238h1v189h-1zM657 238h1v189h-1zM659 238h1v189h-1zM662 238h1v189h-1zM664 238h1v189h-1zM667 238h1v189h-1zM668 236h2v191h-2zM671 238h1v189h-1zM674 238h1v189h-1zM676 238h1v189h-1zM678 238h1v189h-1zM681 238h1v189h-1zM683 238h1v189h-1zM686 238h1v189h-1zM688 238h1v189h-1zM690 238h1v189h-1zM692 236h2v191h-2zM695 238h1v189h-1zM697 238h1v189h-1zM700 238h1v189h-1zM702 238h1v189h-1zM705 238h1v189h-1zM484 238h1v189h-1zM706 238h1v189h-1zM484 241h223v1h-223zM484 244h223v1h-223zM484 246h223v1h-223zM484 248h223v1h-223zM484 251h223v1h-223zM484 253h223v1h-223zM484 256h223v1h-223zM484 257h223v2h-223zM484 260h223v1h-223zM484 263h223v1h-223zM484 265h223v1h-223zM484 267h223v1h-223zM484 270h223v1h-223zM484 272h223v1h-223zM484 275h223v1h-223zM484 277h223v1h-223zM484 279h223v1h-223zM484 281h223v2h-223zM484 284h223v1h-223zM484 287h223v1h-223zM484 289h223v1h-223zM484 291h223v1h-223zM484 294h223v1h-223zM484 296h223v1h-223zM484 298h223v1h-223zM484 301h223v1h-223zM484 303h223v1h-223zM484 305h223v2h-223zM484 308h223v1h-223zM484 310h223v1h-223zM484 313h223v1h-223zM484 315h223v1h-223zM484 318h223v1h-223zM484 320h223v1h-223zM484 322h223v1h-223zM484 325h223v1h-223zM484 327h223v1h-223zM484 329h223v2h-223zM484 332h223v1h-223zM484 334h223v1h-223zM484 337h223v1h-223zM484 339h223v1h-223zM484 341h223v1h-223zM484 344h223v1h-223zM484 346h223v1h-223zM484 349h223v1h-223zM484 351h223v1h-223zM484 353h223v2h-223zM484 356h223v1h-223zM484 358h223v1h-223zM484 361h223v1h-223zM484 363h223v1h-223zM484 365h223v1h-223zM484 368h223v1h-223zM484 370h223v1h-223zM484 372h223v1h-223zM484 375h223v1h-223zM484 377h223v2h-223zM484 380h223v1h-223zM484 382h223v1h-223zM484 384h223v1h-223zM484 387h223v1h-223zM484 389h223v1h-223zM484 392h223v1h-223zM484 394h223v1h-223zM484 396h223v1h-223zM484 399h223v1h-223zM484 401h223v2h-223zM484 404h223v1h-223zM484 406h223v1h-223zM484 408h223v1h-223zM484 411h223v1h-223zM484 413h223v1h-223zM484 415h223v1h-223zM484 418h223v1h-223zM484 420h223v1h-223zM484 238h223v1h-223zM484 422h223v1h-223z" fill="#00aeef" shape-rendering="crispEdges"/><path d="M486 237h1v1h-1zM488 237h1v1h-1zM490 237h1v1h-1zM493 237h1v1h-1zM495 237h1v1h-1zM498 237h1v1h-1zM500 237h1v1h-1zM505 237h1v1h-1zM507 237h1v1h-1zM509 237h1v1h-1zM512 237h1v1h-1zM514 237h1v1h-1zM517 237h1v1h-1zM519 237h1v1h-1zM521 237h1v1h-1zM524 237h1v1h-1zM528 237h1v1h-1zM531 237h1v1h-1zM533 237h1v1h-1zM536 237h1v1h-1zM538 237h1v1h-1zM540 237h1v1h-1zM543 237h1v1h-1zM545 237h1v1h-1zM548 237h1v1h-1zM552 237h1v1h-1zM555 237h1v1h-1zM557 237h1v1h-1zM559 237h1v1h-1zM562 237h1v1h-1zM564 237h1v1h-1zM567 237h1v1h-1zM569 237h1v1h-1zM571 237h1v1h-1zM576 237h1v1h-1zM578 237h1v1h-1zM581 237h1v1h-1zM583 237h1v1h-1zM586 237h1v1h-1zM588 237h1v1h-1zM590 237h1v1h-1zM593 237h1v1h-1zM595 237h1v1h-1zM600 237h1v1h-1zM602 237h1v1h-1zM605 237h1v1h-1zM607 237h1v1h-1zM609 237h1v1h-1zM612 237h1v1h-1zM614 237h1v1h-1zM617 237h1v1h-1zM619 237h1v1h-1zM624 237h1v1h-1zM626 237h1v1h-1zM628 237h1v1h-1zM631 237h1v1h-1zM633 237h1v1h-1zM636 237h1v1h-1zM638 237h1v1h-1zM640 237h1v1h-1zM643 237h1v1h-1zM647 237h1v1h-1zM650 237h1v1h-1zM652 237h1v1h-1zM655 237h1v1h-1zM657 237h1v1h-1zM659 237h1v1h-1zM662 237h1v1h-1zM664 237h1v1h-1zM667 237h1v1h-1zM671 237h1v1h-1zM674 237h1v1h-1zM676 237h1v1h-1zM678 237h1v1h-1zM681 237h1v1h-1zM683 237h1v1h-1zM686 237h1v1h-1zM688 237h1v1h-1zM690 237h1v1h-1zM695 237h1v1h-1zM697 237h1v1h-1zM700 237h1v1h-1zM702 237h1v1h-1zM705 237h1v1h-1zM484 237h1v1h-1zM706 237h1v1h-1z" fill="#00aeef" fill-opacity="0.5" shape-rendering="crispEdges"/>
<text transform="translate(591.40 251.90) scale(0.93 1)" font-size="19.6" font-weight="bold" fill="#231f20" stroke="#231f20" stroke-width="0.65" stroke-linejoin="round">Y</text>
<text transform="translate(592.32 424.50) scale(0.9 1)" font-size="19.5" font-weight="bold" fill="#231f20" stroke="#231f20" stroke-width="0.65" stroke-linejoin="round">Y</text>
<line x1="604.5" y1="412.1" x2="608.6" y2="408.3" stroke="#231f20" stroke-width="1.25"/>
<text transform="translate(496.29 336.50) scale(0.92 1)" font-size="19.4" font-weight="bold" fill="#231f20" stroke="#231f20" stroke-width="0.65" stroke-linejoin="round">X</text>
<line x1="510.6" y1="323.6" x2="514.3" y2="320.6" stroke="#231f20" stroke-width="1.25"/>
<text transform="translate(686.29 336.70) scale(0.92 1)" font-size="19.4" font-weight="bold" fill="#231f20" stroke="#231f20" stroke-width="0.65" stroke-linejoin="round">X</text>
<text transform="translate(581.11 347.41) scale(1.001 1)" font-size="19.20" fill="#231f20" stroke="#231f20" stroke-width="0.2">O</text>
<text x="597.75" y="445.6" font-size="19.3" text-anchor="middle" fill="#231f20" stroke="#231f20" stroke-width="0.2">(vi)</text>
<path d="M521.4 330.0H675.1M598.0 261.7V398.2" stroke="#231f20" stroke-width="2.0" fill="none" shape-rendering="crispEdges"/>
<polygon points="512.3,330.0 521.6,324.9 521.6,335.1" fill="#231f20"/>
<polygon points="684.2,330.0 674.9,324.9 674.9,335.1" fill="#231f20"/>
<polygon points="598.0,252.6 593.0,261.9 603.0,261.9" fill="#231f20"/>
<polygon points="598.0,407.3 593.0,398.0 603.0,398.0" fill="#231f20"/>
<path d="M532.83 364.11L533.13 362.91L533.40 361.71L533.66 360.50L533.91 359.30L534.14 358.10L534.36 356.90L534.58 355.71L534.78 354.51L534.98 353.32L535.17 352.12L535.36 350.93L535.55 349.74L535.73 348.55L535.91 347.36L536.09 346.18L536.28 344.99L536.47 343.81L536.66 342.62L536.86 341.44L537.07 340.26L537.28 339.08L537.51 337.90L537.74 336.72L537.99 335.55L538.25 334.37L538.53 333.20L538.83 332.03L539.14 330.85L539.47 329.68L539.82 328.52L540.19 327.35L540.58 326.18L541.00 325.01L541.44 323.85L541.91 322.69L542.41 321.52L542.94 320.36L543.50 319.20L544.09 318.05L544.72 316.94L545.40 315.91L546.13 315.02L546.92 314.28L547.78 313.76L548.71 313.49L549.73 313.51L550.81 313.80L551.91 314.33L553.00 315.06L554.04 315.93L554.99 316.90L555.81 317.94L556.49 319.00L557.07 320.07L557.56 321.15L558.02 322.22L558.47 323.28L558.96 324.32L559.52 325.33L560.19 326.31L561.00 327.23L561.97 328.10L563.07 328.86L564.25 329.49L565.45 329.93L566.62 330.16L567.76 330.16L568.87 329.97L569.93 329.61L570.97 329.11L571.97 328.48L572.94 327.76L573.88 326.97L574.79 326.14L575.69 325.28L576.55 324.42L577.40 323.54L578.23 322.64L579.04 321.74L579.84 320.83L580.62 319.91L581.40 318.98L582.16 318.05L582.92 317.12L583.67 316.18L584.42 315.23L585.17 314.29L585.92 313.34L586.67 312.40L587.42 311.46L588.18 310.52L588.95 309.59L589.73 308.66L590.53 307.74L591.33 306.82L592.15 305.92L593.00 305.02L593.86 304.16L594.76 303.32L595.69 302.51L596.66 301.76L597.66 301.05L598.72 300.40L599.81 299.88L600.91 299.56L602.01 299.53L603.09 299.81L604.13 300.34L605.14 301.05L606.10 301.87L607.01 302.73L607.86 303.62L608.67 304.54L609.45 305.48L610.20 306.44L610.93 307.40L611.65 308.38L612.36 309.35L613.08 310.33L613.80 311.29L614.54 312.26L615.27 313.22L616.02 314.17L616.77 315.12L617.53 316.06L618.29 317.01L619.05 317.95L619.82 318.88L620.60 319.81L621.37 320.75L622.15 321.67L622.93 322.60L623.72 323.53L624.50 324.45L625.28 325.38L626.06 326.31L626.85 327.23L627.63 328.16L628.41 329.08L629.19 330.01" fill="none" stroke="#231f20" stroke-width="1.4" stroke-linecap="butt" stroke-linejoin="round"/>
<path d="M637.01 330.01L637.65 328.91L638.28 327.80L638.90 326.69L639.51 325.57L640.10 324.44L640.68 323.31L641.25 322.18L641.81 321.03L642.35 319.89L642.89 318.73L643.42 317.58L643.94 316.42L644.45 315.25L644.95 314.08L645.45 312.91L645.94 311.74L646.42 310.56L646.90 309.38L647.38 308.20L647.85 307.02L648.32 305.84L648.78 304.65L649.24 303.47L649.71 302.28L650.17 301.09L650.62 299.91L651.08 298.72L651.54 297.53L652.01 296.35L652.47 295.17L652.94 293.98L653.40 292.80" fill="none" stroke="#231f20" stroke-width="1.4" stroke-linecap="butt" stroke-linejoin="round"/>
</g>
<text x="358" y="482.9" font-size="21.1" font-weight="bold" text-anchor="middle" fill="#1ea7e6" xml:space="preserve">Fig.  2.10</text>
</svg>
</body></html>
